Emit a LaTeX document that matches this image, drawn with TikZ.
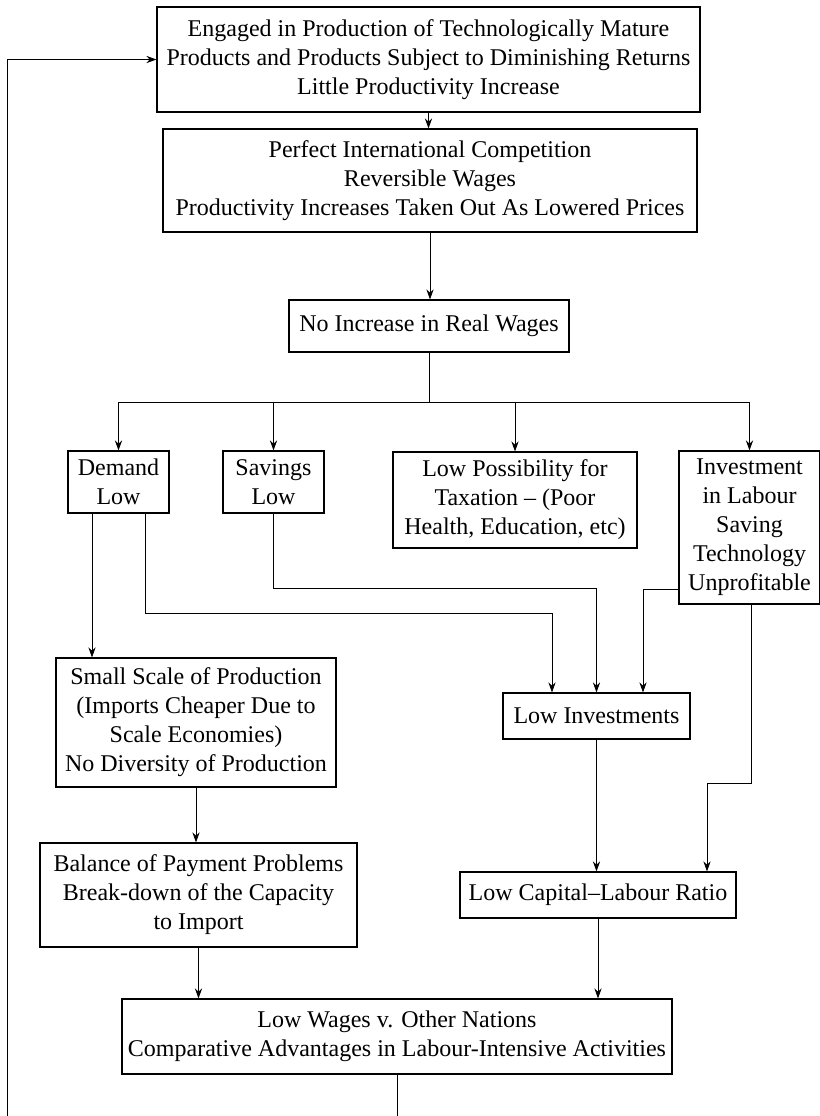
\documentclass[tikz,border=0pt]{standalone}
\usepackage{fontspec}
\setmainfont{Liberation Serif}
\usetikzlibrary{arrows.meta,positioning}

\tikzset{
    box/.style={draw, line width=0.6pt, align=center, inner sep=0pt,
        font=\fontsize{12}{14.5}\selectfont},
    arr/.style={-{Stealth[length=5pt,width=3.6pt]}, line width=0.4pt},
    link/.style={line width=0.4pt},
}

\begin{document}
\begin{tikzpicture}[x=0.5pt, y=-0.5pt]
    \useasboundingbox (0,0) rectangle (820,1116);
    \node[box, minimum width=271.5pt, minimum height=52.5pt] (top) at (428.5,59.5)
        {Engaged in Production of Technologically Mature\\Products and Products Subject to Diminishing Returns\\Little Productivity Increase};
    \node[box, minimum width=267pt, minimum height=51.5pt] (comp) at (430,180.5)
        {Perfect International Competition\\Reversible Wages\\Productivity Increases Taken Out As Lowered Prices};
    \node[box, minimum width=140pt, minimum height=26pt] (wages) at (429,326)
        {No Increase in Real Wages};
    \node[box, minimum width=50.5pt, minimum height=31pt] (demand) at (118.5,482) {Demand\\Low};
    \node[box, minimum width=50.5pt, minimum height=31pt] (savings) at (273.5,482) {Savings\\Low};
    \node[box, minimum width=122pt, minimum height=48pt] (taxation) at (515,500)
        {Low Possibility for\\Taxation -- (Poor\\Health, Education, etc)};
    \node[box, minimum width=70.5pt, minimum height=76.5pt] (invest) at (749.5,527.5)
        {Investment\\in Labour\\Saving\\Technology\\Unprofitable};
    \node[box, minimum width=140pt, minimum height=64.5pt] (small) at (196,722.5)
        {Small Scale of Production\\(Imports Cheaper Due to\\Scale Economies)\\No Diversity of Production};
    \node[box, minimum width=93.5pt, minimum height=23pt] (lowinv) at (596.5,716) {Low Investments};
    \node[box, minimum width=158.5pt, minimum height=52pt] (balance) at (198.5,895)
        {Balance of Payment Problems\\Break-down of the Capacity\\to Import};
    \node[box, minimum width=138pt, minimum height=23pt] (lowcap) at (598,895) {Low Capital--Labour Ratio};
    \node[box, minimum width=275pt, minimum height=37.5pt] (final) at (397,1036.5)
        {Low Wages v. Other Nations\\Comparative Advantages in Labour-Intensive Activities};

    \coordinate (split) at (429,402);
    \coordinate (loop) at (7,1116);

    % spine
    \draw[arr] (top.south) -- (comp.north -| top.south);
    \draw[arr] (comp.south) -- (wages.north -| comp.south);
    \draw[link] (wages.south) -- (split);
    \draw[link] (demand.north |- split) -- (invest.north |- split);
    \foreach \n in {demand,savings,taxation,invest}
        \draw[arr] (\n.north |- split) -- (\n.north);

    % into low investments
    \draw[arr] ([xshift=-13.25pt]demand.south) -- ([xshift=-13.25pt]demand.south |- small.north);
    \draw[arr] ([xshift=13.25pt]demand.south) -- ++(0,100) -| ([xshift=-22.25pt]lowinv.north);
    \draw[arr] (savings.south) -- ++(0,75) -| (lowinv.north);
    \draw[arr] ([yshift=-30.75pt]invest.west) -| ([xshift=23.25pt]lowinv.north);
    \draw[arr] ([xshift=0.75pt]invest.south) -- ++(0,179) -| ([xshift=54.5pt]lowcap.north);
    \draw[arr] (lowinv.south) -- (lowinv.south |- lowcap.north);

    % bottom
    \draw[arr] (small.south) -- (small.south |- balance.north);
    \draw[arr] (balance.south) -- (balance.south |- final.north);
    \draw[arr] (lowcap.south) -- (lowcap.south |- final.north);
    \draw[link] (final.south) -- (final.south |- loop);
    \draw[arr] (loop) |- (top.west);
\end{tikzpicture}
\end{document}
